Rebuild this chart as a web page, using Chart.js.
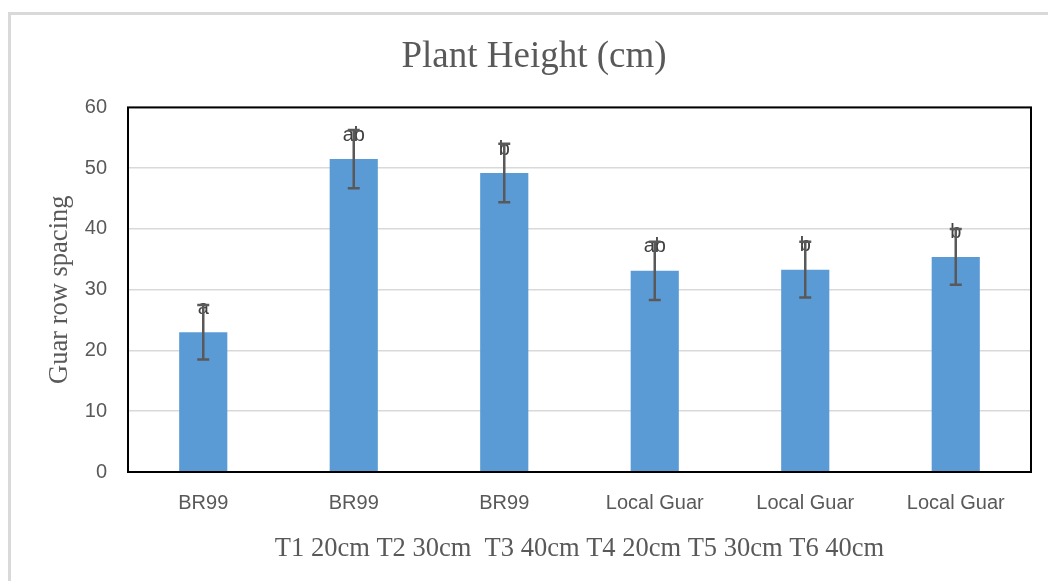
<!DOCTYPE html>
<html>
<head>
<meta charset="utf-8">
<script src="https://cdn.jsdelivr.net/npm/chart.js@4.4.1/dist/chart.umd.min.js"></script>
<style>
  html, body { margin: 0; padding: 0; background: #fff; }
  #wrap { position: relative; width: 1048px; height: 581px; overflow: hidden; }
  #frame { position: absolute; left: 8px; top: 12px; width: 1200px; height: 700px;
           border-left: 3px solid #d9d9d9; border-top: 3px solid #d9d9d9; }
  canvas { position: absolute; left: 0; top: 0; }
</style>
</head>
<body>
<div id="wrap">
  <div id="frame"></div>
  <canvas id="barChart" width="1060" height="581"></canvas>
</div>
<script>
// data
const categories = ['BR99', 'BR99', 'BR99', 'Local Guar', 'Local Guar', 'Local Guar'];
const heights = [23.0, 51.5, 49.2, 33.1, 33.3, 35.4];
const errors = [4.5, 4.8, 4.8, 4.8, 4.6, 4.6];
const letters = ['a', 'ab', 'b', 'ab', 'b', 'b'];
const yTicks = [0, 10, 20, 30, 40, 50, 60];

const grey = '#595959';

// error bars, letters and the black plot frame
const extras = {
    id: 'extras',
    afterDatasetsDraw(chart) {
        const { ctx, chartArea, scales } = chart;
        const bars = chart.getDatasetMeta(0).data;
        ctx.save();
        // letters
        ctx.font = '20px "Liberation Sans", Arial, sans-serif';
        ctx.fillStyle = '#404040';
        ctx.textAlign = 'center';
        ctx.textBaseline = 'middle';
        bars.forEach((bar, i) => {
            ctx.fillText(letters[i], bar.x, bar.y - 24);
        });
        // error bars
        ctx.strokeStyle = grey;
        ctx.lineWidth = 2.5;
        bars.forEach((bar, i) => {
            const top = scales.y.getPixelForValue(heights[i] + errors[i]);
            const bottom = scales.y.getPixelForValue(heights[i] - errors[i]);
            ctx.beginPath();
            ctx.moveTo(bar.x, top);
            ctx.lineTo(bar.x, bottom);
            ctx.moveTo(bar.x - 6, top);
            ctx.lineTo(bar.x + 6, top);
            ctx.moveTo(bar.x - 6, bottom);
            ctx.lineTo(bar.x + 6, bottom);
            ctx.stroke();
        });
        // plot area frame
        ctx.strokeStyle = '#000';
        ctx.lineWidth = 2;
        ctx.strokeRect(chartArea.left, chartArea.top, chartArea.right - chartArea.left, chartArea.bottom - chartArea.top);
        ctx.restore();
    }
};

const ctx = document.getElementById('barChart').getContext('2d');
const barChart = new Chart(ctx, {
    type: 'bar',
    data: {
        labels: categories,
        datasets: [{
            label: 'Plant Height',
            data: heights,
            backgroundColor: '#5B9BD5',
            categoryPercentage: 1,
            barPercentage: 0.32
        }]
    },
    options: {
        responsive: false,
        animation: false,
        layout: {
            padding: { left: 10, right: 2, top: 12, bottom: 0 }
        },
        plugins: {
            legend: { display: false },
            tooltip: { enabled: false },
            title: {
                display: true,
                text: 'Plant Height (cm)',
                color: grey,
                font: { family: '"Liberation Serif", "Times New Roman", serif', size: 37, weight: 'normal' },
                padding: { top: 23, bottom: 28 }
            }
        },
        scales: {
            x: {
                grid: { display: false, drawTicks: false },
                border: { display: false },
                ticks: {
                    color: grey,
                    padding: 19,
                    maxRotation: 0,
                    autoSkip: false,
                    font: { family: '"Liberation Sans", Arial, sans-serif', size: 20 }
                },
                title: {
                    display: true,
                    text: 'T1 20cm T2 30cm  T3 40cm T4 20cm T5 30cm T6 40cm',
                    color: grey,
                    font: { family: '"Liberation Serif", "Times New Roman", serif', size: 26.5 },
                    padding: { top: 0, bottom: 16 }
                },
                afterFit(scale) { scale.height = 109; }
            },
            y: {
                min: 0,
                max: 60,
                afterBuildTicks(scale) { scale.ticks = yTicks.map(v => ({ value: v })); },
                grid: { color: '#d9d9d9', lineWidth: 1.5, drawTicks: false },
                border: { display: false },
                ticks: {
                    color: grey,
                    padding: 21,
                    font: { family: '"Liberation Sans", Arial, sans-serif', size: 20 }
                },
                title: {
                    display: true,
                    text: 'Guar row spacing',
                    color: grey,
                    font: { family: '"Liberation Serif", "Times New Roman", serif', size: 26.5 },
                    padding: { top: 34, bottom: 0 }
                },
                afterFit(scale) { scale.width = 118; }
            },
            // empty right axis, only there to keep the plot narrower than the title box
            spacer: {
                type: 'linear',
                position: 'right',
                grid: { display: false, drawTicks: false },
                border: { display: false },
                ticks: { display: false },
                afterFit(scale) { scale.width = 27; }
            }
        }
    },
    plugins: [extras]
});
</script>
</body>
</html>
